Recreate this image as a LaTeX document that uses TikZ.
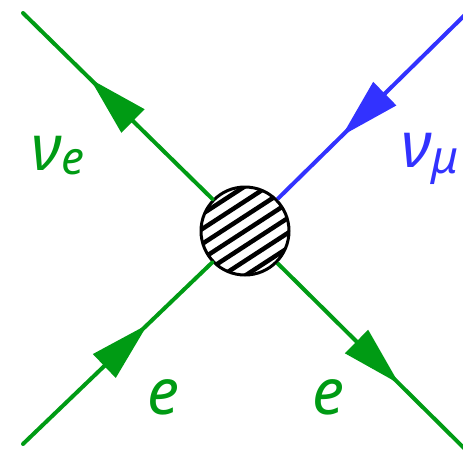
\documentclass[tikz,border=0pt]{standalone}
\usepackage{fontspec}
\newfontfamily\labfont{Noto Sans}
\usetikzlibrary{arrows.meta,calc}
\definecolor{fgreen}{RGB}{0,155,20}
\definecolor{fblue}{RGB}{50,50,255}
\newcommand{\bigsz}{\fontsize{64}{66}\selectfont}
\newcommand{\subsz}{\fontsize{46}{48}\selectfont}
\begin{document}
\begin{tikzpicture}[x=1pt,y=-1pt,
  fermion/.style={line width=4pt},
  tiphead/.style={-{Triangle[length=60pt,width=32pt]}},
  lab/.style={font=\labfont\itshape\bigsz, inner sep=0pt}]
\useasboundingbox (0,0) rectangle (463,451);
\coordinate (c) at (245,231);
% hatching
\begin{scope}
  \clip (c) circle (44);
  \fill[white] (c) circle (44);
  \foreach \d in {-62.5,-50,...,62.5} {
    \draw[line width=4.5pt, black]
      ($(c)+(\d*0.545-70*0.839, \d*0.839+70*0.545)$) --
      ($(c)+(\d*0.545+70*0.839, \d*0.839-70*0.545)$);
  }
\end{scope}
\node[circle, minimum size=88pt, inner sep=0pt, draw=black, line width=3pt] (v) at (c) {};
% external points
\coordinate (tl) at (23,13);
\coordinate (tr) at (475,5);
\coordinate (bl) at (23,444);
\coordinate (br) at (470,454);
% lines
\draw[fgreen, fermion, line cap=round] (tl) -- (v);
\draw[fblue, fermion] (tr) -- (v);
\draw[fgreen, fermion, line cap=round] (bl) -- (v);
\draw[fgreen, fermion] (br) -- (v);
% arrow heads
\coordinate (a1b) at ($(c)!157pt!(tl)$);
\coordinate (a1t) at ($(c)!217pt!(tl)$);
\coordinate (a2b) at ($(c)!197pt!(tr)$);
\coordinate (a2t) at ($(c)!136pt!(tr)$);
\coordinate (a3b) at ($(c)!195pt!(bl)$);
\coordinate (a3t) at ($(c)!135pt!(bl)$);
\coordinate (a4b) at ($(c)!157pt!(br)$);
\coordinate (a4t) at ($(c)!217pt!(br)$);
\draw[fgreen, fermion, tiphead] (a1b) -- (a1t);
\draw[fblue, fermion, tiphead] (a2b) -- (a2t);
\draw[fgreen, fermion, tiphead] (a3b) -- (a3t);
\draw[fgreen, fermion, tiphead] (a4b) -- (a4t);
% labels
\node[lab, text=fgreen, anchor=base west] (lne) at (31,170) {ν\lower4pt\hbox{\subsz e}};
\node[lab, text=fblue, anchor=base west] (lnm) at (401,167) {ν\lower6pt\hbox{\subsz μ}};
\node[lab, text=fgreen, anchor=base] (le1) at (163,414) {e};
\node[lab, text=fgreen, anchor=base] (le2) at (328,414) {e};
\end{tikzpicture}
\end{document}
